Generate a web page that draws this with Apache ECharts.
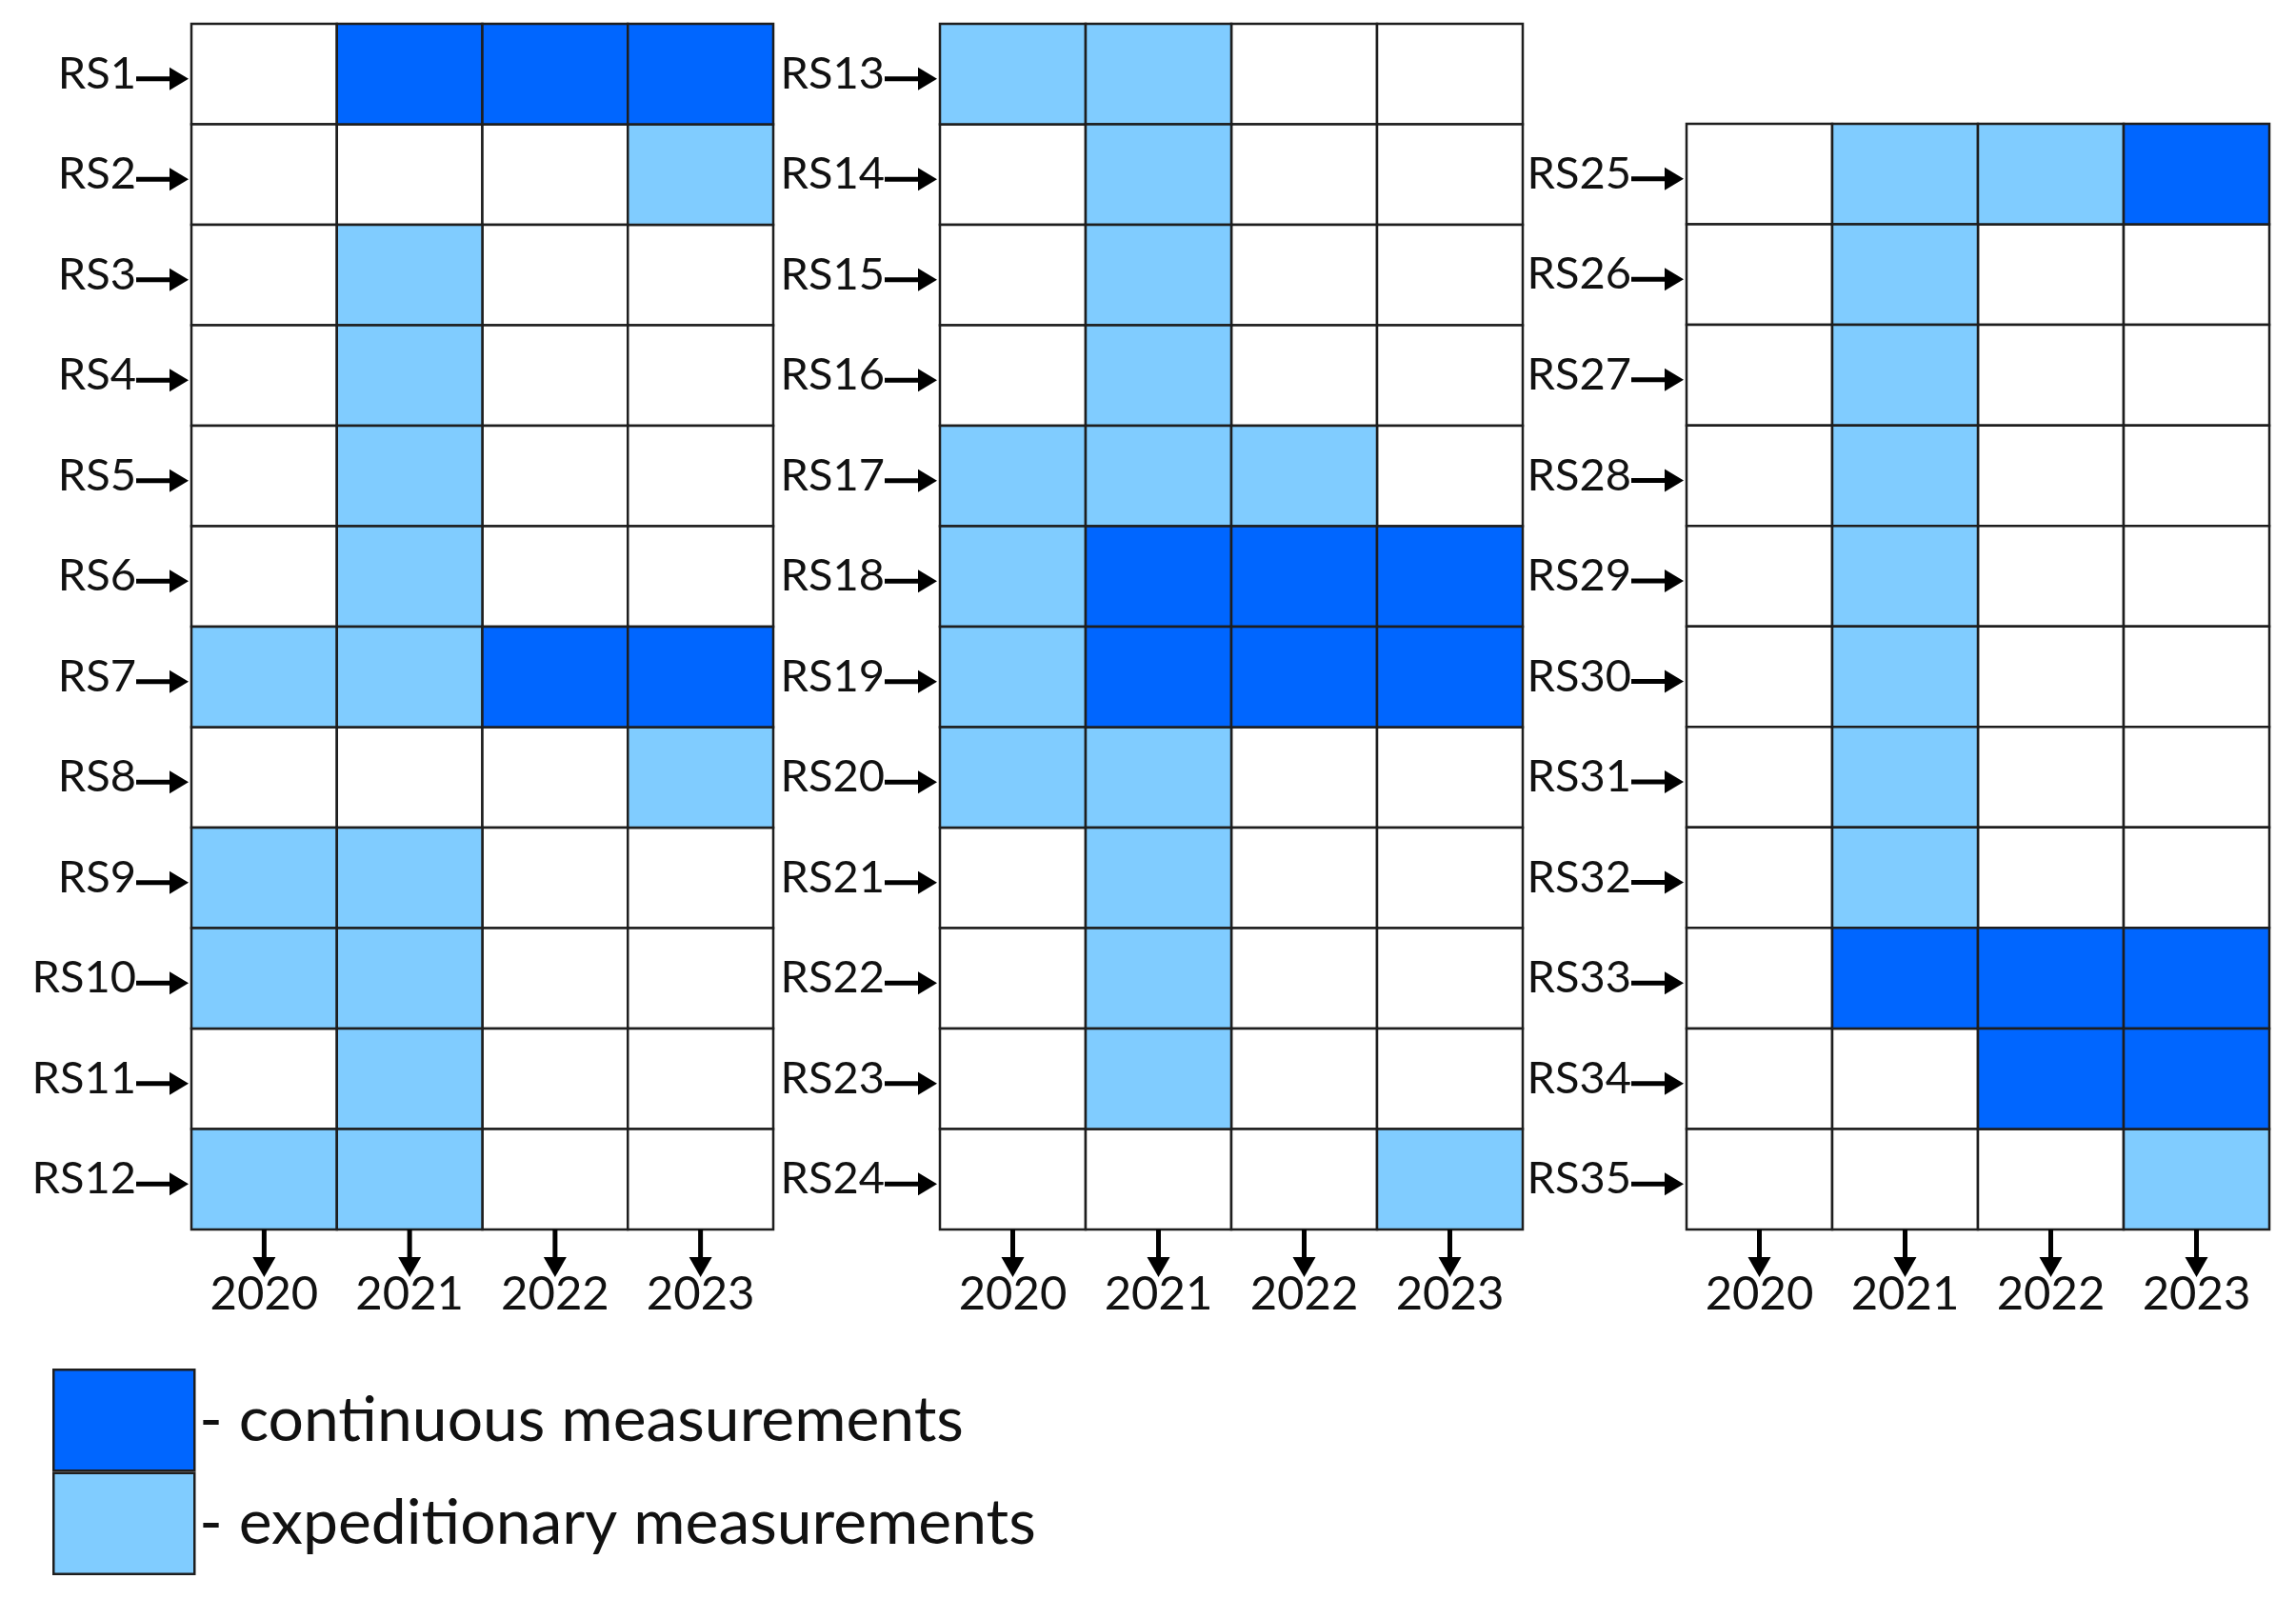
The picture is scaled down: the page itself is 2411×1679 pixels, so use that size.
<!DOCTYPE html>
<html>
<head>
<meta charset="utf-8">
<script src="https://cdn.jsdelivr.net/npm/echarts@6/dist/echarts.min.js"></script>
<style>
html,body{margin:0;padding:0;background:#fff;}
#chart{width:2411px;height:1679px;}
</style>
</head>
<body>
<div id="chart"></div>
<script>
// ---- data ----
const years = ['2020', '2021', '2022', '2023'];
const stations1 = ['RS1','RS2','RS3','RS4','RS5','RS6','RS7','RS8','RS9','RS10','RS11','RS12'];
const stations2 = ['RS13','RS14','RS15','RS16','RS17','RS18','RS19','RS20','RS21','RS22','RS23','RS24'];
const stations3 = ['RS25','RS26','RS27','RS28','RS29','RS30','RS31','RS32','RS33','RS34','RS35'];
// 0 = no measurements, 1 = expeditionary, 2 = continuous (columns: 2020..2023)
const status1 = [
  [0,2,2,2],[0,0,0,1],[0,1,0,0],[0,1,0,0],[0,1,0,0],[0,1,0,0],
  [1,1,2,2],[0,0,0,1],[1,1,0,0],[1,1,0,0],[0,1,0,0],[1,1,0,0]
];
const status2 = [
  [1,1,0,0],[0,1,0,0],[0,1,0,0],[0,1,0,0],[1,1,1,0],[1,2,2,2],
  [1,2,2,2],[1,1,0,0],[0,1,0,0],[0,1,0,0],[0,1,0,0],[0,0,0,1]
];
const status3 = [
  [0,1,1,2],[0,1,0,0],[0,1,0,0],[0,1,0,0],[0,1,0,0],[0,1,0,0],
  [0,1,0,0],[0,1,0,0],[0,2,2,2],[0,0,2,2],[0,0,0,1]
];
const legendNames = ['- continuous measurements', '- expeditionary measurements'];

// ---- styles ----
const COLOR_CONT = '#0066FF';
const COLOR_EXP = '#80CCFF';
const LINE = '#1e1e1e';
const FONT = 'Lato, "Open Sans", sans-serif';

const panels = [
  {stations: stations1, status: status1, grid: {left: 201, top: 25, width: 611, height: 1266}},
  {stations: stations2, status: status2, grid: {left: 987, top: 25, width: 612, height: 1266}},
  {stations: stations3, status: status3, grid: {left: 1771, top: 130, width: 612, height: 1161}}
];

function cellRender(params, api) {
  const c = api.coord([api.value(0), api.value(1)]);
  const s = api.size([1, 1]);
  return {
    type: 'rect',
    shape: {x: c[0] - s[0] / 2, y: c[1] - s[1] / 2, width: s[0], height: s[1]},
    style: {fill: api.visual('color'), stroke: LINE, lineWidth: 2.5}
  };
}
function leftArrowRender(params, api) {
  const c = api.coord([api.value(0), api.value(1)]);
  const left = params.coordSys.x;
  const y = c[1] + 5;
  return {
    type: 'group',
    children: [
      {type: 'line', shape: {x1: left - 58, y1: y, x2: left - 18, y2: y}, style: {stroke: '#000', lineWidth: 5}},
      {type: 'polygon', shape: {points: [[left - 23, y - 12], [left - 3, y], [left - 23, y + 12]]}, style: {fill: '#000'}}
    ]
  };
}
function downArrowRender(params, api) {
  const c = api.coord([api.value(0), api.value(1)]);
  const bottom = params.coordSys.y + params.coordSys.height;
  const x = c[0];
  return {
    type: 'group',
    children: [
      {type: 'line', shape: {x1: x, y1: bottom, x2: x, y2: bottom + 34}, style: {stroke: '#000', lineWidth: 5}},
      {type: 'polygon', shape: {points: [[x - 12, bottom + 29], [x, bottom + 50], [x + 12, bottom + 29]]}, style: {fill: '#000'}}
    ]
  };
}

const grids = [], xAxes = [], yAxes = [], series = [];
panels.forEach((p, gi) => {
  grids.push(Object.assign({}, p.grid));
  xAxes.push({
    gridIndex: gi, type: 'category', data: years, position: 'bottom',
    axisLine: {show: false}, axisTick: {show: false}, splitLine: {show: false},
    axisLabel: {fontSize: 49, fontFamily: FONT, color: '#111', margin: 44}
  });
  yAxes.push({
    gridIndex: gi, type: 'category', data: p.stations, inverse: true,
    axisLine: {show: false}, axisTick: {show: false}, splitLine: {show: false},
    axisLabel: {fontSize: 47, fontFamily: FONT, color: '#111', margin: 58, padding: [12, 0, 0, 0]}
  });
  const none = [], exp = [], cont = [];
  p.status.forEach((row, yi) => row.forEach((v, xi) => {
    const d = [xi, yi, v];
    if (v === 2) cont.push(d); else if (v === 1) exp.push(d); else none.push(d);
  }));
  series.push({type: 'custom', name: 'none', xAxisIndex: gi, yAxisIndex: gi, renderItem: cellRender,
    itemStyle: {color: '#ffffff'}, data: none, silent: true, clip: false});
  series.push({type: 'custom', name: legendNames[1], xAxisIndex: gi, yAxisIndex: gi, renderItem: cellRender,
    itemStyle: {color: COLOR_EXP}, data: exp, clip: false});
  series.push({type: 'custom', name: legendNames[0], xAxisIndex: gi, yAxisIndex: gi, renderItem: cellRender,
    itemStyle: {color: COLOR_CONT}, data: cont, clip: false});
  series.push({type: 'custom', name: 'rowArrows', xAxisIndex: gi, yAxisIndex: gi, renderItem: leftArrowRender,
    data: p.stations.map((s, yi) => [0, yi]), silent: true, clip: false});
  series.push({type: 'custom', name: 'colArrows', xAxisIndex: gi, yAxisIndex: gi, renderItem: downArrowRender,
    data: years.map((y, xi) => [xi, p.stations.length - 1]), silent: true, clip: false});
});

const chart = echarts.init(document.getElementById('chart'), null, {renderer: 'canvas'});
chart.setOption({
  backgroundColor: '#ffffff',
  animation: false,
  grid: grids,
  xAxis: xAxes,
  yAxis: yAxes,
  legend: {
    data: legendNames,
    orient: 'vertical',
    left: 55, top: 1437,
    padding: 0,
    itemWidth: 148, itemHeight: 106, itemGap: 0,
    icon: 'rect',
    itemStyle: {borderColor: LINE, borderWidth: 2.5},
    textStyle: {fontSize: 66, fontFamily: FONT, color: '#111', padding: [26, 0, 0, 0]},
    selectedMode: false
  },
  series: series
});
</script>
</body>
</html>
